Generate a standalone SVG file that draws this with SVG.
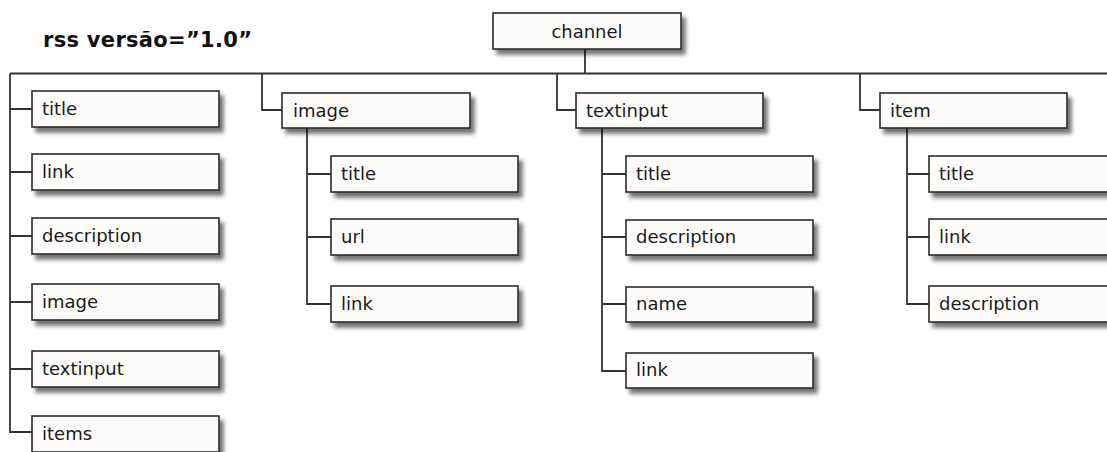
<svg xmlns="http://www.w3.org/2000/svg" width="1107" height="452" viewBox="0 0 1107 452">
<defs>
<filter id="sh" x="-10%" y="-20%" width="130%" height="160%">
<feGaussianBlur in="SourceAlpha" stdDeviation="2"/>
<feOffset dx="4" dy="5" result="b"/>
<feComponentTransfer><feFuncA type="linear" slope="0.55"/></feComponentTransfer>
<feMerge><feMergeNode/><feMergeNode in="SourceGraphic"/></feMerge>
</filter>
</defs>
<style>
.box{fill:#fdfcfa;stroke:#2b2b2b;stroke-width:1.6;filter:url(#sh)}
.t{font-family:"DejaVu Sans",Verdana,sans-serif;font-size:18px;fill:#1a1a1a}
.c{fill:none;stroke:#333;stroke-width:1.8}
</style>
<rect width="1107" height="452" fill="#ffffff"/>
<text x="43" y="47" font-family="'DejaVu Sans',Verdana,sans-serif" font-weight="bold" font-size="21" textLength="209" fill="#111">rss versão=”1.0”</text>
<g id="connectors">
<path class="c" d="M585 49V73.5M10 73.5H1107M10 73.5V432H32M10 109H32M10 172H32M10 236H32M10 302H32M10 369H32"/>
<path class="c" d="M262 73.5V110H282M307 128V304H331M307 174H331M307 237H331"/>
<path class="c" d="M557 73.5V110H576M602 128V371H626M602 174H626M602 237H626M602 304H626"/>
<path class="c" d="M860 73.5V110H880M907 128V304H929M907 174H929M907 237H929"/>
</g>
<g id="channel"><rect class="box" x="493" y="13" width="188" height="36"/><text class="t" x="587" y="38" text-anchor="middle">channel</text></g>
<g id="l-title"><rect class="box" x="32" y="91" width="187" height="36"/><text class="t" x="42" y="115">title</text></g>
<g id="l-link"><rect class="box" x="32" y="154" width="187" height="36"/><text class="t" x="42" y="178">link</text></g>
<g id="l-description"><rect class="box" x="32" y="218" width="187" height="36"/><text class="t" x="42" y="242">description</text></g>
<g id="l-image"><rect class="box" x="32" y="284" width="187" height="36"/><text class="t" x="42" y="308">image</text></g>
<g id="l-textinput"><rect class="box" x="32" y="351" width="187" height="36"/><text class="t" x="42" y="375">textinput</text></g>
<g id="l-items"><rect class="box" x="32" y="416" width="187" height="36"/><text class="t" x="42" y="440">items</text></g>
<g id="image"><rect class="box" x="282" y="93" width="188" height="35"/><text class="t" x="293" y="117">image</text></g>
<g id="image-title"><rect class="box" x="331" y="156" width="187" height="36"/><text class="t" x="341" y="180">title</text></g>
<g id="image-url"><rect class="box" x="331" y="219" width="187" height="36"/><text class="t" x="341" y="243">url</text></g>
<g id="image-link"><rect class="box" x="331" y="286" width="187" height="36"/><text class="t" x="341" y="310">link</text></g>
<g id="textinput"><rect class="box" x="576" y="93" width="187" height="35"/><text class="t" x="586" y="117">textinput</text></g>
<g id="ti-title"><rect class="box" x="626" y="156" width="187" height="36"/><text class="t" x="636" y="180">title</text></g>
<g id="ti-description"><rect class="box" x="626" y="220" width="187" height="35"/><text class="t" x="636" y="243">description</text></g>
<g id="ti-name"><rect class="box" x="626" y="287" width="187" height="35"/><text class="t" x="636" y="310">name</text></g>
<g id="ti-link"><rect class="box" x="626" y="353" width="187" height="35"/><text class="t" x="636" y="376">link</text></g>
<g id="item"><rect class="box" x="880" y="93" width="187" height="35"/><text class="t" x="890" y="117">item</text></g>
<g id="item-title"><rect class="box" x="929" y="156" width="187" height="36"/><text class="t" x="939" y="180">title</text></g>
<g id="item-link"><rect class="box" x="929" y="219" width="187" height="36"/><text class="t" x="939" y="243">link</text></g>
<g id="item-description"><rect class="box" x="929" y="286" width="187" height="36"/><text class="t" x="939" y="310">description</text></g>
</svg>
